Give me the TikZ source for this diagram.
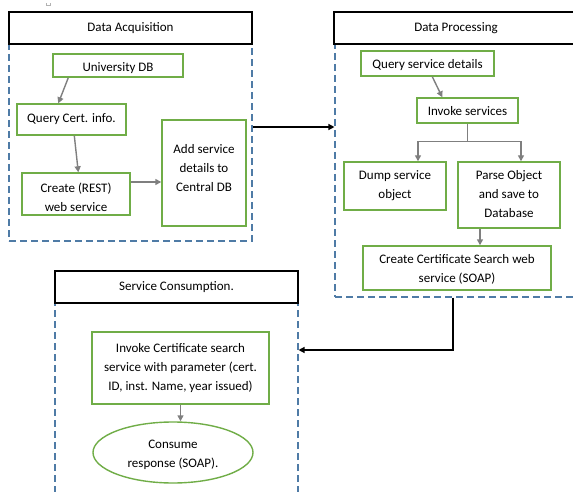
\documentclass[tikz,border=0pt]{standalone}
\usepackage{fontspec}
\setmainfont{Carlito}
\usetikzlibrary{shapes.geometric,arrows.meta}

\definecolor{boxgreen}{HTML}{70AD47}
\definecolor{lanedash}{HTML}{4F7BA6}
\definecolor{flowgray}{HTML}{7F7F7F}

\tikzset{
  every node/.style={font=\fontsize{13}{19}\selectfont, inner sep=0pt, align=center},
  header/.style={draw=black, line width=1.3pt, fill=white, rectangle},
  lane/.style={draw=lanedash, line width=1.1pt, dash pattern=on 7pt off 4pt, rectangle},
  gbox/.style={draw=boxgreen, line width=1.4pt, fill=white, rectangle},
  gell/.style={draw=boxgreen, line width=1.4pt, fill=white, ellipse},
  garrow/.style={draw=flowgray, line width=1.4pt, -{Triangle[length=6pt,width=6pt]}},
  barrow/.style={draw=black, line width=1.3pt, -{Triangle[length=6pt,width=6pt]}},
}

\begin{document}
\begin{tikzpicture}[x=1pt,y=-1pt]
\useasboundingbox (0,0) rectangle (573,492);

% lanes (dashed areas) and their title bars
\node[lane, minimum width=243, minimum height=197] (areaA) at (130.5,142.5) {};
\node[header, minimum width=243, minimum height=32] (hdrA) at (130.5,28) {Data Acquisition};

\node[lane, minimum width=243, minimum height=253] (areaB) at (456.5,170.5) {};
\node[header, minimum width=244, minimum height=32] (hdrB) at (456,28) {Data Processing};

\node[lane, minimum width=243, minimum height=200] (areaC) at (176.5,403) {};
\node[header, minimum width=243, minimum height=32] (hdrC) at (176.5,287) {Service Consumption.};

% small mark above the first lane
\draw[flowgray!60, line width=0.5pt] (46.5,3.5) -- (46.5,5.5) -- (50.5,5.5) -- (50.5,3.5);

% Data Acquisition steps
\node[gbox, minimum width=130, minimum height=23] (uni) at (118,65.5) {\rule{0pt}{14pt}University DB};
\node[gbox, minimum width=109, minimum height=31] (qci) at (71.5,119.5) {Query Cert. info.};
\node[gbox, minimum width=108, minimum height=42] (rest) at (76,194) {\rule{0pt}{16.5pt}Create (REST)\\web service};
\node[gbox, minimum width=84, minimum height=106, text depth=11pt] (add) at (204,173) {Add service\\details to\\Central DB};

% Data Processing steps
\node[gbox, minimum width=133, minimum height=25, text depth=0pt] (qsd) at (427.5,63.5) {Query service details};
\node[gbox, minimum width=101, minimum height=25] (inv) at (467.5,110.5) {\rule{0pt}{11pt}Invoke services};
\node[gbox, minimum width=102, minimum height=48] (dump) at (395,186) {Dump service\\object};
\node[gbox, minimum width=102, minimum height=66, text depth=2pt] (parse) at (509,195) {Parse Object\\and save to\\Database};
\node[gbox, minimum width=188, minimum height=44] (ccs) at (457,268) {\rule{0pt}{12.5pt}Create Certificate Search web\\service (SOAP)};

% Service Consumption steps
\node[gbox, minimum width=177, minimum height=72] (icert) at (180.5,368) {Invoke Certificate search\\service with parameter (cert.\\ID, inst. Name, year issued)};
\node[gell, minimum width=160, minimum height=61] (cons) at (173,452.5) {\rule{0pt}{13.5pt}Consume\\response (SOAP).};

% flow inside Data Acquisition
\draw[garrow] ([xshift=16pt]uni.south west) -- ([xshift=42pt]qci.north west);
\draw[garrow] ([xshift=58pt]qci.south west) -- ([xshift=57pt]rest.north west);
\draw[garrow] ([yshift=12pt]rest.east) -- ([yshift=12pt]rest.east -| add.west);

% lane to lane
\draw[barrow] ([yshift=15.5pt]areaA.east) -- ([yshift=15.5pt]areaA.east -| areaB.west);

% flow inside Data Processing
\draw[garrow] ([xshift=72pt]qsd.south west) -- ([xshift=26pt]inv.north west);
\draw[flowgray, line width=1.4pt] (inv.south) -- ++(0,18) coordinate (fork);
\draw[garrow] (fork) -| ([xshift=23pt]dump.north);
\draw[garrow] (fork) -| ([xshift=12pt]parse.north);
\draw[garrow] ([xshift=-29pt]parse.south) -- ([xshift=-29pt]parse.south |- ccs.north);

% Data Processing to Service Consumption
\coordinate (turn) at (453,350);
\draw[barrow] (areaB.south -| turn) -- (turn) -- (turn -| areaC.east);

% flow inside Service Consumption
\draw[garrow] (icert.south) -- (icert.south |- cons.north);
\end{tikzpicture}
\end{document}
